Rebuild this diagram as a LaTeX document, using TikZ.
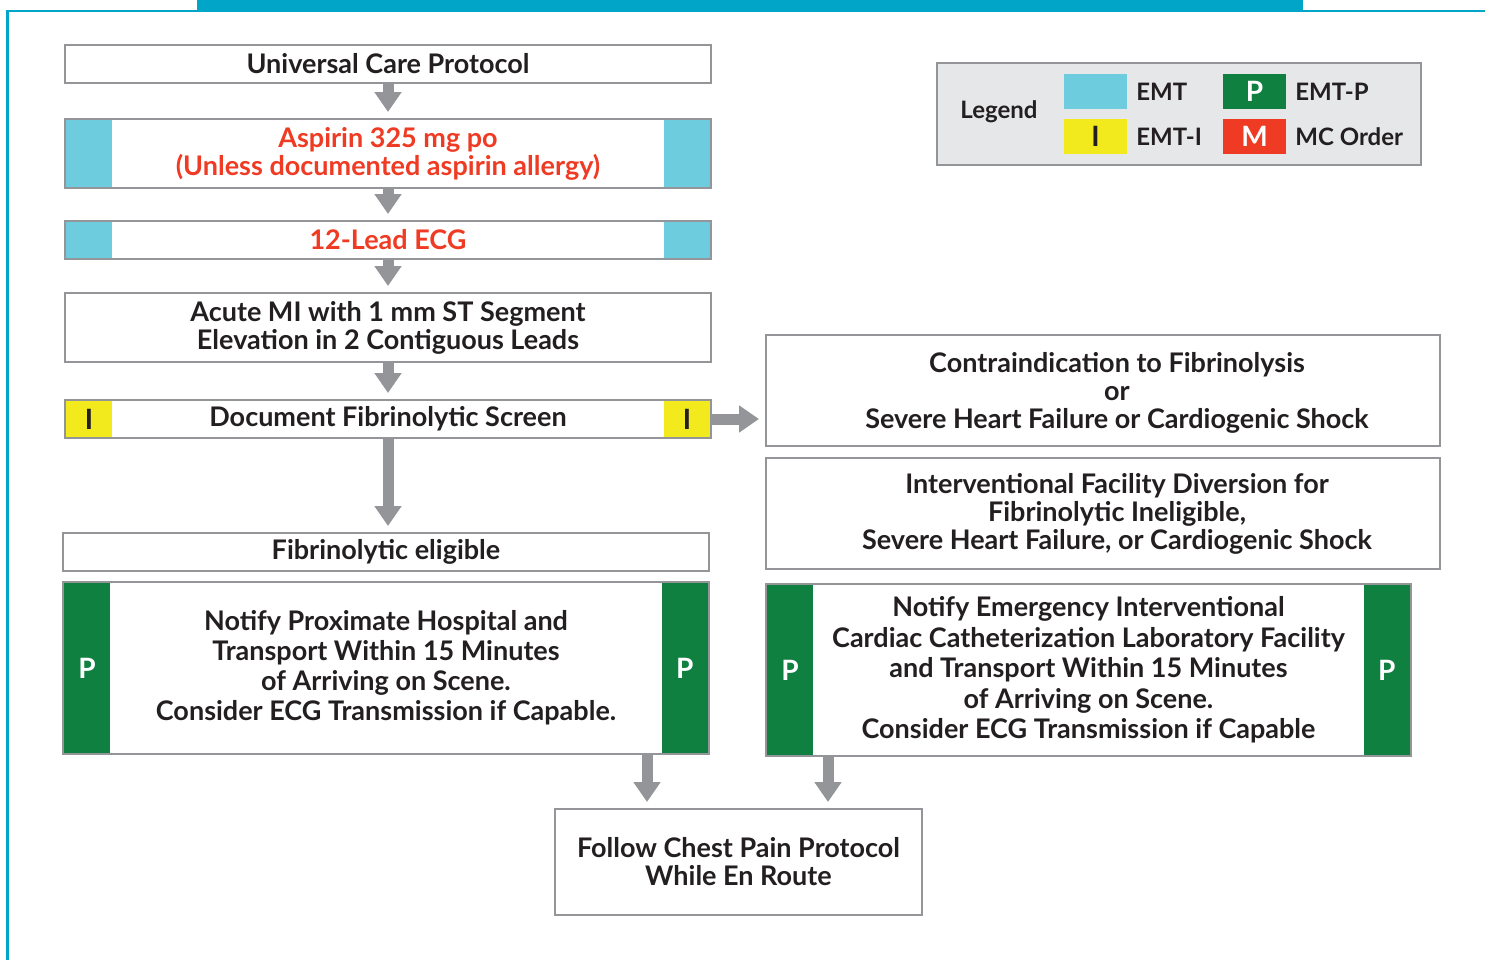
\documentclass[tikz,border=0pt]{standalone}
\usepackage{fontspec}
\setmainfont{Lato}
\usetikzlibrary{arrows.meta,positioning,calc}

\definecolor{frameblue}{HTML}{00A5C8}
\definecolor{boxgray}{HTML}{939598}
\definecolor{emtcyan}{HTML}{6DCCDD}
\definecolor{emtyellow}{HTML}{F2EA1C}
\definecolor{emtgreen}{HTML}{108040}
\definecolor{mcred}{HTML}{EF3B23}
\definecolor{inkdark}{HTML}{231F20}
\definecolor{legendbg}{HTML}{E6E7E8}

\tikzset{
  stepbox/.style={draw=boxgray, line width=1.3pt, outer sep=0pt, inner sep=0pt, align=center,
    text=inkdark, font=\bfseries\fontsize{13.5}{14}\selectfont, minimum width=323pt},
  steptext/.style={inner sep=0pt, align=center, text=inkdark, font=\bfseries\fontsize{13.5}{14}\selectfont},
  sideblk/.style={outer sep=0pt, inner sep=0pt, minimum width=22.8pt, font=\bfseries\fontsize{14}{14}\selectfont},
  emtblk/.style={sideblk, fill=emtcyan},
  emtiblk/.style={sideblk, fill=emtyellow, text=inkdark},
  emtpblk/.style={sideblk, fill=emtgreen, text=white},
  mcblk/.style={sideblk, fill=mcred, text=white},
  keytext/.style={anchor=west, inner sep=0pt, text=inkdark, font=\bfseries\fontsize{12}{14}\selectfont},
  flowarrow/.style={draw=boxgray, line width=5.5pt, -{Triangle[width=13pt, length=10pt]}, shorten >=3.5pt},
}

\begin{document}
\begin{tikzpicture}[x=0.5pt, y=-0.5pt]

        \useasboundingbox (0,0) rectangle (1485,960);

        % frame
        \fill[frameblue] (197,0) rectangle (1303,11);
        \draw[frameblue, line width=1.3pt] (7.5,960) -- (7.5,11) -- (1485,11);

        % main column
        \node[stepbox, minimum height=19pt] (univ) at (388,64) {Universal Care Protocol};
        \node[stepbox, minimum height=34.5pt, text=mcred] (asp) at (388,153.5) {Aspirin 325 mg po\\(Unless documented aspirin allergy)};
        \node[stepbox, minimum height=19pt, text=mcred] (ecg) at (388,240) {12-Lead ECG};
        \node[stepbox, minimum height=34.5pt] (acute) at (388,327.5) {Acute MI with 1 mm ST Segment\\Elevation in 2 Contiguous Leads};
        \node[stepbox, minimum height=19pt] (screen) at (388,419) {Document Fibrinolytic Screen};
        \node[stepbox, minimum height=19pt] (elig) at (386,552) {Fibrinolytic eligible};
        \node[stepbox, minimum height=86pt, font=\bfseries\fontsize{13.5}{15}\selectfont] (notifyL) at (386,668)
          {Notify Proximate Hospital and\\Transport Within 15 Minutes\\of Arriving on Scene.\\Consider ECG Transmission if Capable.};

        % right column
        \node[stepbox, minimum width=337pt, minimum height=55.5pt] (contra) at (1103,390.5) {};
        \node[steptext] (contratext) at (1117,393)
          {Contraindication to Fibrinolysis\\or\\Severe Heart Failure or Cardiogenic Shock};
        \node[stepbox, minimum width=337pt, minimum height=55.5pt] (divert) at (1103,513.5) {};
        \node[steptext] (diverttext) at (1117,513.5)
          {Interventional Facility Diversion for\\Fibrinolytic Ineligible,\\Severe Heart Failure, or Cardiogenic Shock};
        \node[stepbox, minimum width=322.5pt, minimum height=86pt, font=\bfseries\fontsize{13.5}{15.2}\selectfont] (notifyR) at (1088.5,670)
          {Notify Emergency Interventional\\Cardiac Catheterization Laboratory Facility\\and Transport Within 15 Minutes\\of Arriving on Scene.\\Consider ECG Transmission if Capable};
        \node[stepbox, minimum width=183.5pt, minimum height=53pt] (follow) at (738.5,862)
          {Follow Chest Pain Protocol\\While En Route};

        % side blocks
        \node[emtblk, anchor=north west, minimum height=33.2pt] (aspL) at ([shift={(0.65pt,-0.65pt)}]asp.north west) {};
        \node[emtblk, anchor=north east, minimum height=33.2pt] (aspR) at ([shift={(-0.65pt,-0.65pt)}]asp.north east) {};
        \node[emtblk, anchor=north west, minimum height=17.7pt] (ecgL) at ([shift={(0.65pt,-0.65pt)}]ecg.north west) {};
        \node[emtblk, anchor=north east, minimum height=17.7pt] (ecgR) at ([shift={(-0.65pt,-0.65pt)}]ecg.north east) {};
        \node[emtiblk, anchor=north west, minimum height=17.7pt] (screenL) at ([shift={(0.65pt,-0.65pt)}]screen.north west) {I};
        \node[emtiblk, anchor=north east, minimum height=17.7pt] (screenR) at ([shift={(-0.65pt,-0.65pt)}]screen.north east) {I};
        \node[emtpblk, anchor=north west, minimum height=84.7pt] (notifyLL) at ([shift={(0.65pt,-0.65pt)}]notifyL.north west) {P};
        \node[emtpblk, anchor=north east, minimum height=84.7pt] (notifyLR) at ([shift={(-0.65pt,-0.65pt)}]notifyL.north east) {P};
        \node[emtpblk, anchor=north west, minimum height=84.7pt] (notifyRL) at ([shift={(0.65pt,-0.65pt)}]notifyR.north west) {P};
        \node[emtpblk, anchor=north east, minimum height=84.7pt] (notifyRR) at ([shift={(-0.65pt,-0.65pt)}]notifyR.north east) {P};

        % legend
        \node[stepbox, fill=legendbg, minimum width=242pt, minimum height=51pt] (legend) at (1179,114) {};
        \node[text=inkdark, font=\bfseries\fontsize{12}{14}\selectfont] (legendtitle) at (999,112) {Legend};
        \node[emtblk, minimum width=31.5pt, minimum height=17.5pt] (keyemt) at (1095.5,91.5) {};
        \node[emtiblk, minimum width=31.5pt, minimum height=17.5pt] (keyemti) at (1095.5,136.5) {I};
        \node[emtpblk, minimum width=31.5pt, minimum height=17.5pt] (keyemtp) at (1254.5,91.5) {P};
        \node[mcblk, minimum width=31.5pt, minimum height=17.5pt] (keymc) at (1254.5,136.5) {M};
        \node[keytext] (keyemtlabel) at (1136,91.5) {EMT};
        \node[keytext] (keyemtilabel) at (1136,136.5) {EMT-I};
        \node[keytext] (keyemtplabel) at (1295,91.5) {EMT-P};
        \node[keytext] (keymclabel) at (1295,136.5) {MC Order};

        % arrows
        \draw[flowarrow] (univ.south) -- (asp.north);
        \draw[flowarrow] (asp.south) -- (ecg.north);
        \draw[flowarrow] (ecg.south) -- (acute.north);
        \draw[flowarrow] (acute.south) -- (screen.north);
        \draw[flowarrow] (screen.south) -- (screen.south |- elig.north);
        \draw[flowarrow] (screen.east) -- (screen.east -| contra.west);
        \draw[flowarrow] ([xshift=-31pt]notifyL.south east) -- ([xshift=-31pt]notifyL.south east |- follow.north);
        \draw[flowarrow] ([xshift=31pt]notifyR.south west) -- ([xshift=31pt]notifyR.south west |- follow.north);

\end{tikzpicture}
\end{document}
